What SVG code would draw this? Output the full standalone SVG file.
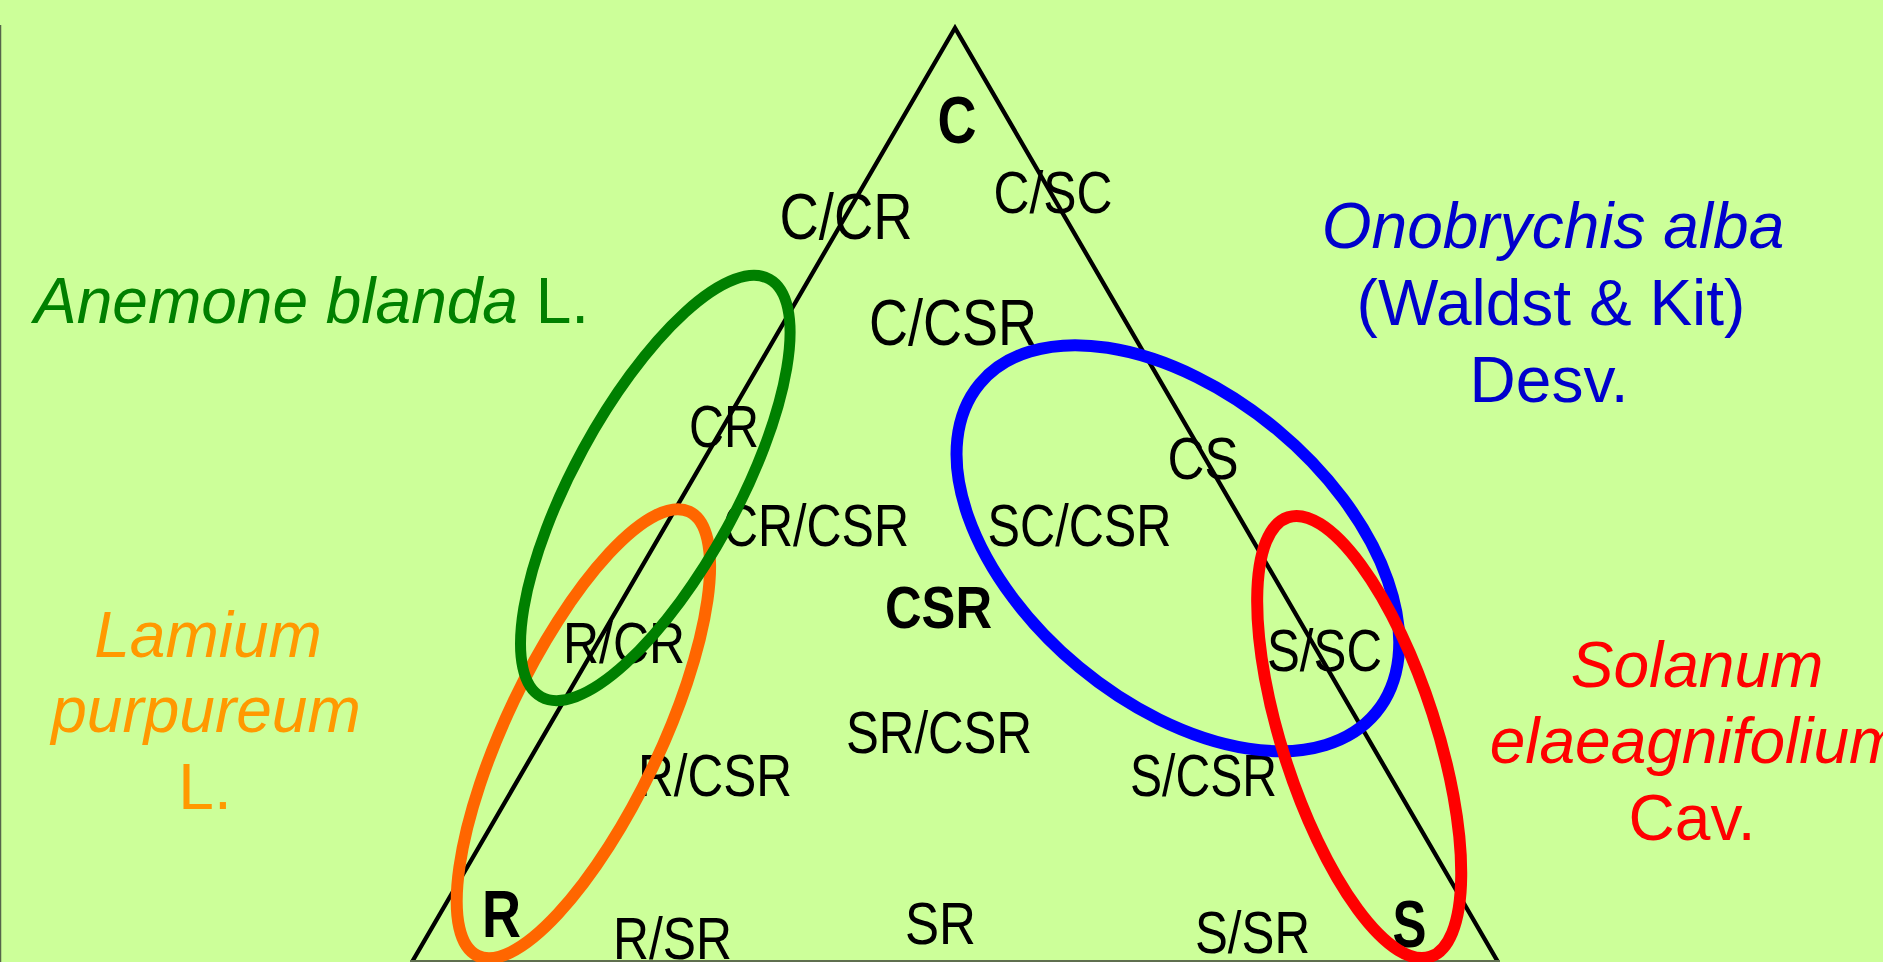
<svg xmlns="http://www.w3.org/2000/svg" width="1883" height="962" viewBox="0 0 1883 962">
  <style>
    .lbl { font-family: "Liberation Sans", Arial, sans-serif; fill: #000; text-anchor: middle; }
    .b { font-weight: bold; }
    .sp { font-family: "Liberation Sans", Arial, sans-serif; font-size: 64px; }
    .it { font-style: italic; }
    .ell { fill: none; }
  </style>
  <rect id="background" x="0" y="0" width="1883" height="962" fill="#CCFF99"/>
  <line id="left-border" x1="0.5" y1="25" x2="0.5" y2="962" stroke="#55654a" stroke-width="1.5"/>

  <g id="triangle">
    <polyline points="412,962 955,28 1498,962" fill="none" stroke="#000" stroke-width="4.3" stroke-linejoin="miter" stroke-miterlimit="10"/>
    <line x1="410" y1="961" x2="1500" y2="961" stroke="#5f6f4f" stroke-width="2"/>
  </g>

  <g id="region-labels">
    <text id="lbl-C" class="lbl b" x="957" y="143" font-size="67" textLength="39" lengthAdjust="spacingAndGlyphs">C</text>
    <text id="lbl-C-CR" class="lbl" x="846" y="239" font-size="64" textLength="133" lengthAdjust="spacingAndGlyphs">C/CR</text>
    <text id="lbl-C-SC" class="lbl" x="1053" y="212.5" font-size="60" textLength="119" lengthAdjust="spacingAndGlyphs">C/SC</text>
    <text id="lbl-C-CSR" class="lbl" x="953" y="345" font-size="65" textLength="168" lengthAdjust="spacingAndGlyphs">C/CSR</text>
    <text id="lbl-CR" class="lbl" x="724" y="446.5" font-size="60" textLength="70" lengthAdjust="spacingAndGlyphs">CR</text>
    <text id="lbl-CS" class="lbl" x="1203" y="479" font-size="59" textLength="71" lengthAdjust="spacingAndGlyphs">CS</text>
    <text id="lbl-CR-CSR" class="lbl" x="816" y="546" font-size="60" textLength="186" lengthAdjust="spacingAndGlyphs">CR/CSR</text>
    <text id="lbl-SC-CSR" class="lbl" x="1079.5" y="546" font-size="60" textLength="184" lengthAdjust="spacingAndGlyphs">SC/CSR</text>
    <text id="lbl-CSR" class="lbl b" x="938.5" y="627.5" font-size="60" textLength="107" lengthAdjust="spacingAndGlyphs">CSR</text>
    <text id="lbl-R-CR" class="lbl" x="624" y="663" font-size="58" textLength="122" lengthAdjust="spacingAndGlyphs">R/CR</text>
    <text id="lbl-S-SC" class="lbl" x="1324.5" y="670.5" font-size="60" textLength="115" lengthAdjust="spacingAndGlyphs">S/SC</text>
    <text id="lbl-SR-CSR" class="lbl" x="939" y="752.5" font-size="60" textLength="186" lengthAdjust="spacingAndGlyphs">SR/CSR</text>
    <text id="lbl-R-CSR" class="lbl" x="715" y="796" font-size="60" textLength="154" lengthAdjust="spacingAndGlyphs">R/CSR</text>
    <text id="lbl-S-CSR" class="lbl" x="1203.5" y="796" font-size="59" textLength="147" lengthAdjust="spacingAndGlyphs">S/CSR</text>
    <text id="lbl-R" class="lbl b" x="501.5" y="936.5" font-size="67" textLength="39" lengthAdjust="spacingAndGlyphs">R</text>
    <text id="lbl-R-SR" class="lbl" x="672.5" y="959" font-size="60" textLength="119" lengthAdjust="spacingAndGlyphs">R/SR</text>
    <text id="lbl-SR" class="lbl" x="940.5" y="944" font-size="60" textLength="71" lengthAdjust="spacingAndGlyphs">SR</text>
    <text id="lbl-S-SR" class="lbl" x="1252.5" y="953" font-size="60" textLength="115" lengthAdjust="spacingAndGlyphs">S/SR</text>
    <text id="lbl-S" class="lbl b" x="1409.5" y="947" font-size="66" textLength="34" lengthAdjust="spacingAndGlyphs">S</text>
  </g>

  <g id="groupings">
    <ellipse id="ell-lamium" class="ell" cx="583.4" cy="733.7" rx="77" ry="246" transform="rotate(25.5 583.4 733.7)" stroke="#FF6600" stroke-width="12"/>
    <ellipse id="ell-anemone" class="ell" cx="655.3" cy="488" rx="82" ry="238" transform="rotate(28.6 655.3 488)" stroke="#008000" stroke-width="11"/>
    <ellipse id="ell-onobrychis" class="ell" cx="1177.9" cy="548.2" rx="257.5" ry="154.6" transform="rotate(39.7 1177.9 548.2)" stroke="#0000FF" stroke-width="12"/>
    <ellipse id="ell-solanum" class="ell" cx="1359.2" cy="737" rx="77" ry="231" transform="rotate(-17.9 1359.2 737)" stroke="#FF0000" stroke-width="12"/>
  </g>

  <g id="species-anemone">
    <text class="sp" x="34" y="323" fill="#008000"><tspan class="it">Anemone blanda</tspan> L.</text>
  </g>
  <g id="species-onobrychis" fill="#0000CC">
    <text class="sp it" x="1553" y="248" text-anchor="middle">Onobrychis alba</text>
    <text class="sp" x="1551" y="325" text-anchor="middle">(Waldst &amp; Kit)</text>
    <text class="sp" x="1549" y="402" text-anchor="middle">Desv.</text>
  </g>
  <g id="species-lamium" fill="#FF9900">
    <text class="sp it" x="208" y="657" text-anchor="middle">Lamium</text>
    <text class="sp it" x="206" y="732" text-anchor="middle">purpureum</text>
    <text class="sp" x="205" y="809" text-anchor="middle">L.</text>
  </g>
  <g id="species-solanum" fill="#FF0000">
    <text class="sp it" x="1697" y="687" text-anchor="middle">Solanum</text>
    <text class="sp it" x="1696" y="763" text-anchor="middle">elaeagnifolium</text>
    <text class="sp" x="1692" y="840" text-anchor="middle">Cav.</text>
  </g>
</svg>
